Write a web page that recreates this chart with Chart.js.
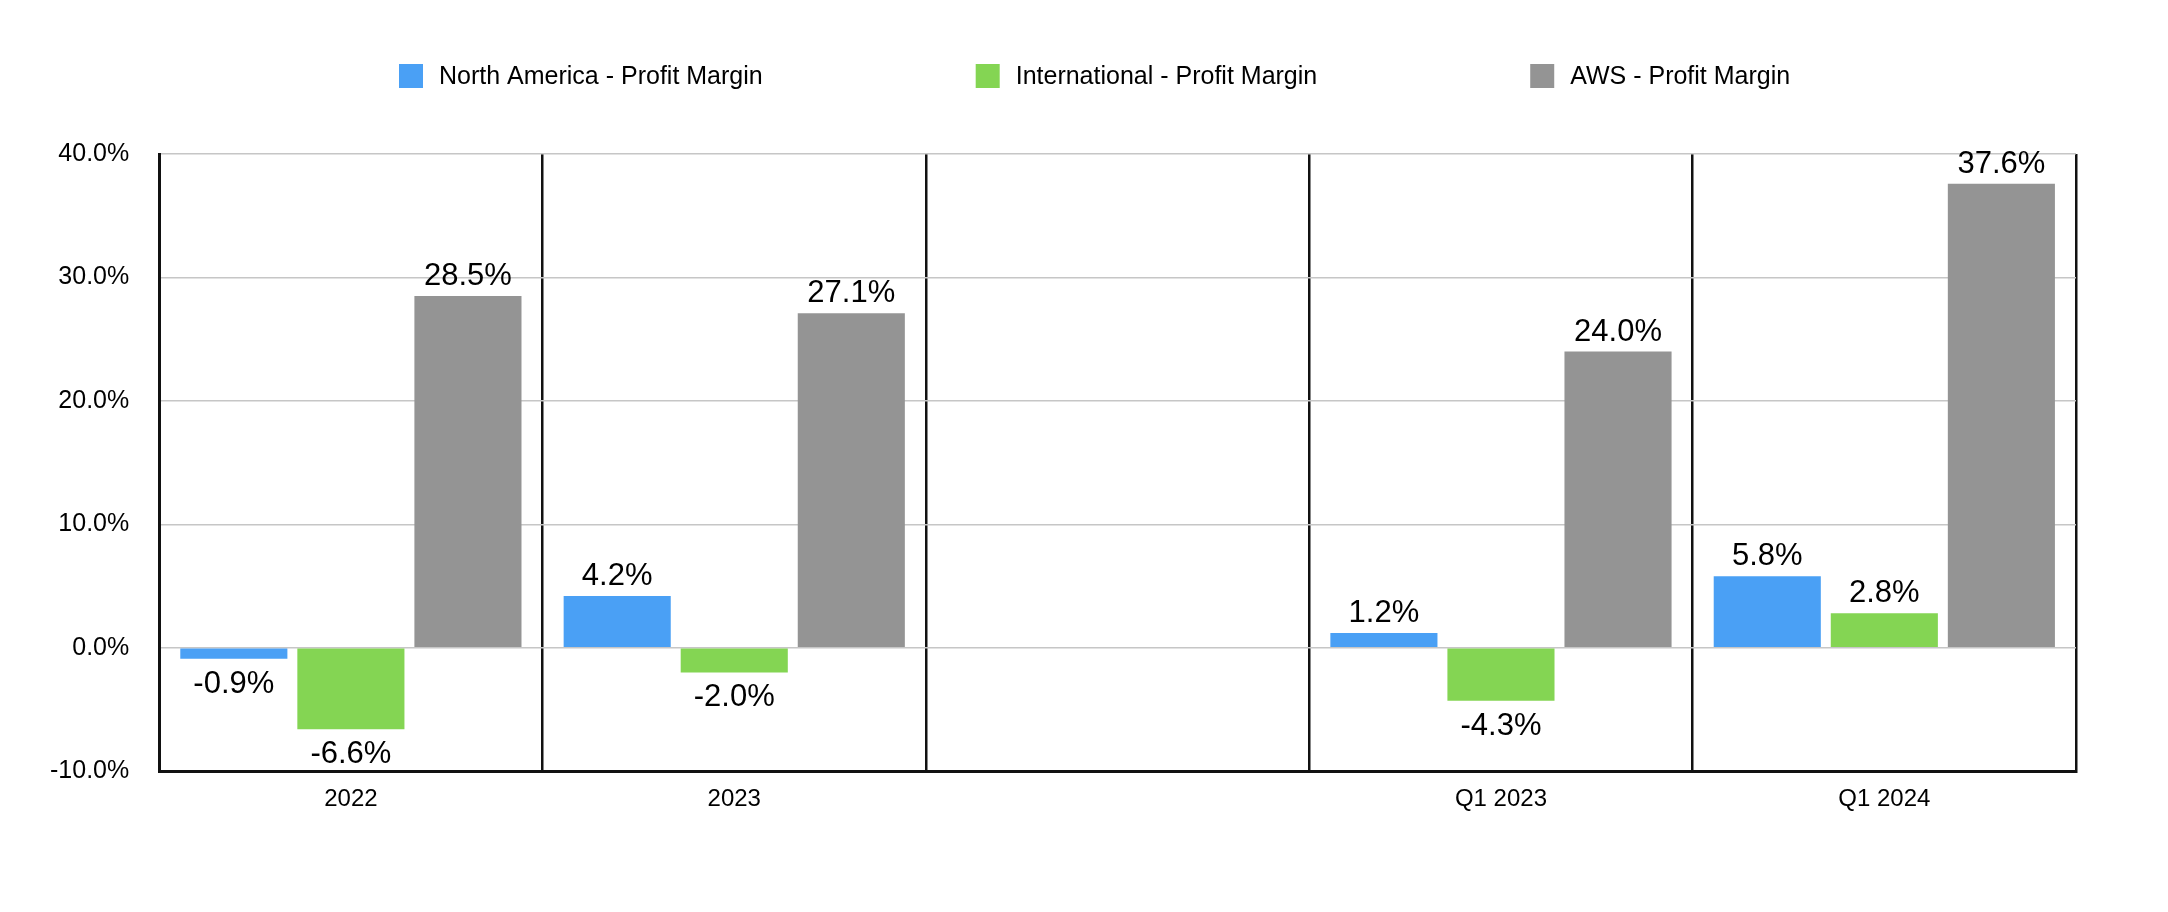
<!DOCTYPE html>
<html>
<head>
<meta charset="utf-8">
<script src="https://cdn.jsdelivr.net/npm/chart.js@4/dist/chart.umd.min.js"></script>
<style>
  html, body { margin: 0; padding: 0; background: #fff; }
  canvas { display: block; }
</style>
</head>
<body>
<canvas id="myChart" width="2168" height="912"></canvas>
<script>
const categories = ["2022", "2023", "", "Q1 2023", "Q1 2024"];
const northAmerica = [-0.9, 4.2, null, 1.2, 5.8];
const international = [-6.6, -2.0, null, -4.3, 2.8];
const aws = [28.5, 27.1, null, 24.0, 37.6];
const seriesNames = [
  "North America - Profit Margin",
  "International - Profit Margin",
  "AWS - Profit Margin",
];

const FONT = "Helvetica, Arial, 'Liberation Sans', sans-serif";

// legend drawn in one row with wide gaps
const rowLegend = {
  id: "rowLegend",
  afterDraw(chart) {
    const c = chart.ctx;
    c.save();
    c.font = "25px " + FONT;
    c.textBaseline = "middle";
    c.textAlign = "left";
    let x = 399;
    const y = 76;
    chart.data.datasets.forEach((ds) => {
      c.fillStyle = ds.backgroundColor;
      c.fillRect(x, y - 12, 24, 24);
      c.fillStyle = "#000";
      c.fillText(ds.label, x + 40, y + 1);
      x += 40 + c.measureText(ds.label).width + 213;
    });
    c.restore();
  },
};

// value labels above / below the bars
const valueLabels = {
  id: "valueLabels",
  afterDatasetsDraw(chart) {
    const c = chart.ctx;
    c.save();
    c.font = "31px " + FONT;
    c.fillStyle = "#000";
    c.textAlign = "center";
    c.textBaseline = "alphabetic";
    chart.data.datasets.forEach((ds, i) => {
      const meta = chart.getDatasetMeta(i);
      meta.data.forEach((bar, j) => {
        const v = ds.data[j];
        if (v === null || v === undefined) return;
        const txt = v.toFixed(1) + "%";
        if (v >= 0) c.fillText(txt, bar.x, bar.y - 11);
        else c.fillText(txt, bar.x, bar.y + 34);
      });
    });
    c.restore();
  },
};

const ctx = document.getElementById("myChart");
new Chart(ctx, {
  type: "bar",
  data: {
    labels: categories,
    datasets: [
      { label: seriesNames[0], data: northAmerica, backgroundColor: "#4AA0F5" },
      { label: seriesNames[1], data: international, backgroundColor: "#84D553" },
      { label: seriesNames[2], data: aws, backgroundColor: "#949494" },
    ],
  },
  options: {
    responsive: false,
    animation: false,
    devicePixelRatio: 1,
    categoryPercentage: 0.916,
    barPercentage: 0.915,
    layout: {
      padding: { top: 154, left: 20, right: 92, bottom: 84 },
    },
    plugins: {
      legend: { display: false },
      tooltip: { enabled: false },
    },
    scales: {
      x: {
        grid: {
          color: "#111",
          lineWidth: 2.5,
          drawTicks: false,
          offset: true,
        },
        border: { color: "#111", width: 3 },
        ticks: {
          color: "#000",
          padding: 14,
          font: { size: 24, family: FONT },
        },
      },
      y: {
        min: -10,
        max: 40,
        grid: {
          color: "#c6c6c6",
          lineWidth: 1.5,
          drawTicks: false,
        },
        border: { color: "#111", width: 3 },
        ticks: {
          stepSize: 10,
          color: "#000",
          padding: 30,
          font: { size: 25, family: FONT },
          callback: (v) => v.toFixed(1) + "%",
        },
      },
    },
  },
  plugins: [rowLegend, valueLabels],
});
</script>
</body>
</html>
